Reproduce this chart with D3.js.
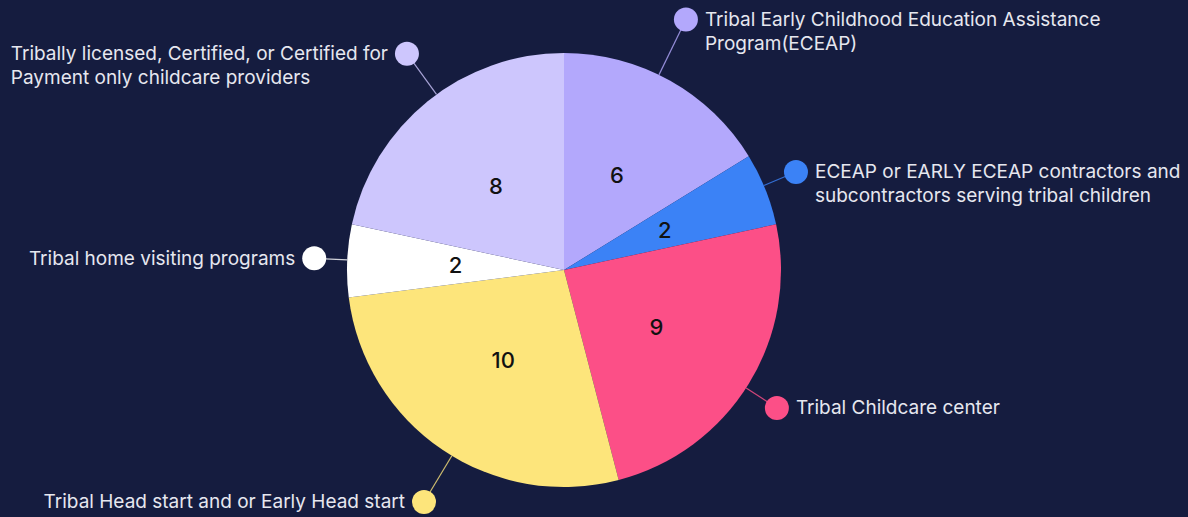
<!DOCTYPE html>
<html>
<head>
<meta charset="utf-8">
<script src="https://cdn.jsdelivr.net/npm/d3@7"></script>
<style>
  html, body { margin: 0; padding: 0; background: #151c3f; }
  svg { display: block; }
</style>
</head>
<body>
<svg id="chart" width="1188" height="517"></svg>
<script>
const categories = [
  ["Tribal Early Childhood Education Assistance", "Program(ECEAP)"],
  ["ECEAP or EARLY ECEAP contractors and", "subcontractors serving tribal children"],
  ["Tribal Childcare center"],
  ["Tribal Head start and or Early Head start"],
  ["Tribal home visiting programs"],
  ["Tribally licensed, Certified, or Certified for", "Payment only childcare providers"]
];
const values = [6, 2, 9, 10, 2, 8];
const colors = ["#b3a8fc", "#3b82f6", "#fc4f87", "#fde57b", "#ffffff", "#cdc6fd"];

// layout (label ellipse vertical radius per label)
const labelRadiusY = [287, 263, 263, 280, 275, 278];

const W = 1188, H = 517;
const cx = 564, cy = 270, R = 217;
const labelRX = 250;
const dotR = 12, textGap = 19, lineH = 24;

const svg = d3.select("#chart");
svg.append("rect").attr("width", W).attr("height", H).attr("fill", "#151c3f");

const data = values.map((v, i) => ({ value: v, label: categories[i], color: colors[i], ry: labelRadiusY[i] }));
const pie = d3.pie().sort(null).value(d => d.value);
const arcs = pie(data);
const arc = d3.arc().innerRadius(0).outerRadius(R);
const labelArc = d3.arc().innerRadius(R / 2).outerRadius(R / 2);

const g = svg.append("g").attr("transform", `translate(${cx},${cy})`);

g.selectAll("path.slice").data(arcs).join("path")
  .attr("class", "slice")
  .attr("d", arc)
  .attr("fill", d => d.data.color);

g.selectAll("text.val").data(arcs).join("text")
  .attr("class", "val")
  .attr("transform", d => `translate(${labelArc.centroid(d)})`)
  .attr("text-anchor", "middle")
  .attr("dominant-baseline", "central")
  .attr("font-family", "Inter, 'Noto Sans', sans-serif")
  .attr("font-size", 22)
  .attr("font-weight", 500)
  .attr("fill", "#111111")
  .text(d => d.data.value);

// outer labels
arcs.forEach(d => {
  const mid = (d.startAngle + d.endAngle) / 2;
  const x = labelRX * Math.sin(mid);
  const y = -d.data.ry * Math.cos(mid);
  const len = Math.hypot(x, y);
  const sx = x * R / len, sy = y * R / len;
  g.append("line")
    .attr("x1", sx).attr("y1", sy).attr("x2", x).attr("y2", y)
    .attr("stroke", d.data.color).attr("stroke-opacity", 0.8).attr("stroke-width", 1.2);
  g.append("circle").attr("cx", x).attr("cy", y).attr("r", dotR).attr("fill", d.data.color);

  const right = x > 0;
  const t = g.append("text")
    .attr("font-family", "Inter, 'Noto Sans', sans-serif")
    .attr("font-size", 19)
    .attr("fill", "#e6e7ef");
  d.data.label.forEach((ln, i) => {
    t.append("tspan").attr("x", 0).attr("y", y + i * lineH)
      .attr("dominant-baseline", "central").text(ln);
  });
  let maxW = 0;
  t.selectAll("tspan").each(function () { maxW = Math.max(maxW, this.getComputedTextLength()); });
  const tx = right ? x + textGap : x - textGap - maxW;
  t.selectAll("tspan").attr("x", tx);
});
</script>
</body>
</html>
